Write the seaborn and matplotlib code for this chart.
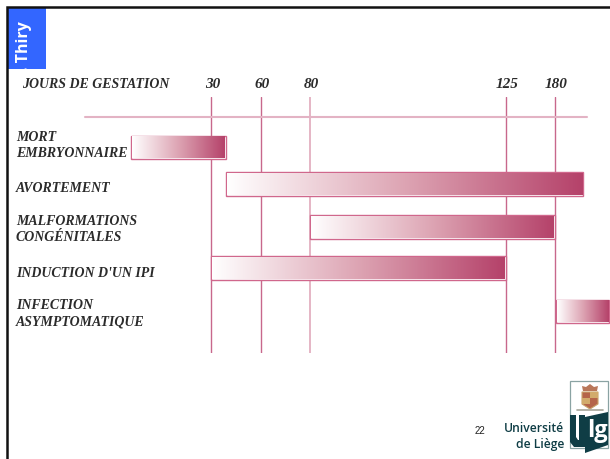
import numpy as np
import matplotlib
matplotlib.use("Agg")
import matplotlib.pyplot as plt
from matplotlib.colors import LinearSegmentedColormap
from matplotlib.patches import Polygon, Rectangle
from matplotlib.transforms import ScaledTranslation
import seaborn as sns

# data (days of gestation)
phases = ["MORT\nEMBRYONNAIRE", "AVORTEMENT", "MALFORMATIONS\nCONGÉNITALES",
          "INDUCTION D'UN IPI", "INFECTION\nASYMPTOMATIQUE"]
start_days = [0, 39, 80, 30, 181]
end_days = [39, 227, 180, 125, 270]
tick_days = [30, 60, 80, 125, 180]
header = "JOURS DE GESTATION"

# the time axis of the slide is not linear, so it gets its own scale
scale_days = [-49, 0, 30, 60, 80, 125, 180, 270, 271]
scale_px = [0, 131, 211, 261, 310, 506, 555, 609, 610]

# rows are not quite evenly spaced on the slide
bar_rows = [0, 0.9, 1.95, 2.95, 4]
label_rows = [-0.11, 0.96, 1.93, 3.03, 3.98]

W, H = 610, 459
SERIF = "Liberation Serif"
INK = "#2b2b2b"
BAR_EDGE = "#d0678c"
DARK_GREEN = "#0f3d45"


def forward(d):
    return np.interp(d, scale_days, scale_px)


def inverse(p):
    return np.interp(p, scale_px, scale_days)


sns.set_theme(style="white")
fig = plt.figure(figsize=(W / 100, H / 100), dpi=100)

# main axes covers the height of the grid lines, full width of the slide
ax = fig.add_axes([0, 1 - 352.5 / H, 1, (352.5 - 96.5) / H])
ax.set_xscale("function", functions=(forward, inverse))

sns.barplot(x=np.array(end_days) - np.array(start_days), y=np.array(bar_rows), orient="y",
            native_scale=True, left=start_days, width=0.65, color="white",
            saturation=1, edgecolor=BAR_EDGE, linewidth=1.0, zorder=3, ax=ax)

ax.set_xlim(-49, 271)
ax.set_ylim(5.0, -1.244)
ax.set_xlabel("")
ax.set_ylabel("")
sns.despine(ax=ax, left=True, bottom=True, top=True, right=True)

ax.xaxis.tick_top()
ax.set_xticks(tick_days, [str(d) for d in tick_days], fontfamily=SERIF,
              fontstyle="italic", fontweight="bold", fontsize=11, color=INK)
ax.tick_params(axis="x", length=0, pad=4)
shift = ScaledTranslation(1.0 / 72, 0, fig.dpi_scale_trans)
for lab in ax.get_xticklabels():
    lab.set_transform(lab.get_transform() + shift)
ax.grid(axis="x", color="#c8688c", linewidth=1.0, zorder=0)
ax.get_xgridlines()[2].set_color("#e5b5c5")
ax.get_xgridlines()[2].set_linewidth(1.4)

ax.set_yticks(label_rows, phases, fontfamily=SERIF, fontstyle="italic",
              fontweight="bold", fontsize=10, color=INK, ha="left",
              linespacing=1.3)
ax.tick_params(axis="y", length=0, pad=-11.5)
ax.patch.set_alpha(0)

# overlay in slide pixels: gradients, frame, logo
over = fig.add_axes([0, 0, 1, 1], zorder=5)
over.set_xlim(0, W)
over.set_ylim(H, 0)
over.axis("off")

cmap = LinearSegmentedColormap.from_list("bar", ["#ffffff", "#dda4b3", "#b5426a"])
fig.canvas.draw()
grad = np.linspace(0, 1, 256).reshape(1, -1)
for bar in ax.patches:
    x0, y0, x1, y1 = bar.get_window_extent().extents
    over.imshow(grad, cmap=cmap, aspect="auto", zorder=2,
                extent=(x0 + 1, x1 - 1, H - y0 - 1, H - y1 + 1))
over.set_xlim(0, W)
over.set_ylim(H, 0)

# pale rule under the header
over.plot([85, 587], [117, 117], color="#e3b3c4", lw=1.5, zorder=1)
over.text(22, 84, header, family=SERIF, style="italic", weight="bold",
          fontsize=10, color=INK, va="center")

# slide frame and blue tab
over.plot([6.5, 6.5, W], [H, 7, 7], color="#111111", lw=1.8, solid_joinstyle="miter", zorder=6)
tab = Rectangle((8, 8), 38, 61, facecolor="#3366ff", edgecolor="none", zorder=3)
over.add_patch(tab)
name = over.text(24, 71, ". Thiry", rotation=90, family="Open Sans", weight="bold",
                 fontsize=11.5, color="white", ha="center", va="bottom", zorder=4)
name.set_clip_path(tab)

# page number and university name
over.text(480, 431, "22", family="Liberation Sans", fontsize=7, color="#222222",
          ha="center", va="center")
over.text(564, 428.5, "Université", family="Open Sans", weight="semibold", fontsize=8.7,
          color=DARK_GREEN, ha="right", va="center")
over.text(564, 444.5, "de Liège", family="Open Sans", weight="semibold", fontsize=8.7,
          color=DARK_GREEN, ha="right", va="center")

# logo: frame, crest, U and the dark block with lg
over.add_patch(Rectangle((569.5, 380.5), 38, 67, fill=False, edgecolor="#8aa3a3", lw=0.9))
over.add_patch(Polygon([[582, 392], [598, 392], [598, 404], [590, 409], [582, 404]],
                       facecolor="#b5654a", edgecolor="#c9a36a", lw=0.8))
over.add_patch(Rectangle((590, 392), 8, 6, facecolor="#d2ab6c", edgecolor="none"))
over.add_patch(Rectangle((582, 398), 8, 6, facecolor="#d2ab6c", edgecolor="none"))
over.add_patch(Polygon([[583, 391], [582, 386], [586, 387], [590, 384], [594, 387],
                        [598, 386], [597, 391]], facecolor="#b9775a", edgecolor="none"))
over.plot([577, 603], [410, 410], color="#a5a59a", lw=1.2)
over.add_patch(Polygon([[570, 415], [576, 415], [576, 437], [578, 440], [579, 440],
                        [579, 415], [585, 415], [585, 447], [574, 447], [570, 442]],
                       facecolor=DARK_GREEN, edgecolor="none"))
over.add_patch(Polygon([[585, 417], [608, 412], [608, 445], [585, 453]],
                       facecolor=DARK_GREEN, edgecolor="none"))
over.text(597, 431, "lg", family="Open Sans", weight="bold", fontsize=17, color="white",
          ha="center", va="center")

fig.savefig("out.png", dpi=100)
plt.close(fig)
